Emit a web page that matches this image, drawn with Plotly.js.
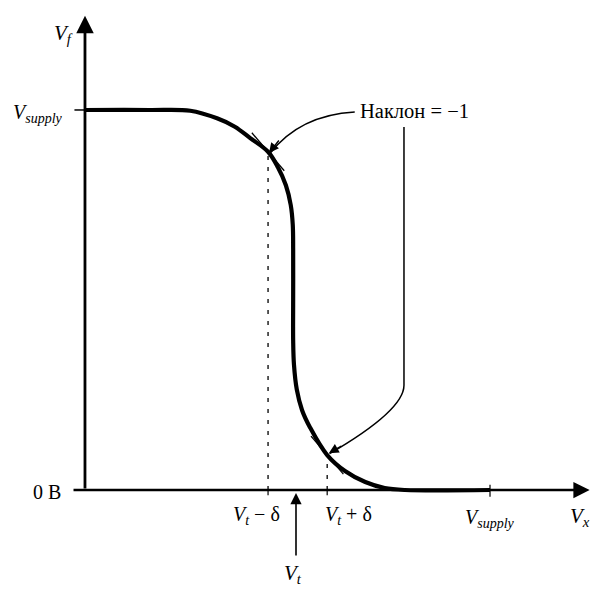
<!DOCTYPE html>
<html>
<head>
<meta charset="utf-8">
<script src="https://cdn.plot.ly/plotly-3.0.1.min.js"></script>
<style>html,body{margin:0;padding:0;background:#fff;}#chart{width:615px;height:594px;}</style>
</head>
<body>
<div id="chart"></div>
<script>
// ---- data (units: Vsupply = 5) ----
const vSupply = 5;
const vT = 2.605;
const curveX = [0, 0.80, 1.30, 1.63, 1.85, 2.04, 2.26, 2.38, 2.48, 2.54, 2.565, 2.57, 2.57, 2.57, 2.58, 2.615, 2.68, 2.78, 2.99, 3.21, 3.46, 3.70, 3.95, 5.0];
const curveY = [5.0, 5.0, 4.99, 4.89, 4.78, 4.63, 4.45, 4.25, 4.01, 3.75, 3.49, 3.16, 2.50, 1.97, 1.65, 1.32, 1.05, 0.82, 0.46, 0.25, 0.105, 0.026, 0, 0];
const tanX = [2.26, 2.99];
const tanY = [4.45, 0.46];
const tanSlope = -1.25;
const tanHalf = 0.2;
const xTickLabels = ['<i>V<sub>t</sub></i> − δ', '<i>V<sub>t</sub></i> + δ', '<i>V<sub>supply</sub></i>'];
const yTickLabels = ['<i>V<sub>supply</sub></i>', '0 В'];
const slopeLabel = 'Наклон = −1';

const FONT = 'Liberation Serif, DejaVu Serif, serif';
const traces = [];
traces.push({x: curveX, y: curveY, mode: 'lines', line: {color: '#000', width: 4.2, shape: 'spline', smoothing: 1}, hoverinfo: 'skip', cliponaxis: false});
for (let i = 0; i < tanX.length; i++) {
  traces.push({x: [tanX[i] - tanHalf, tanX[i] + tanHalf], y: [tanY[i] - tanSlope * tanHalf, tanY[i] + tanSlope * tanHalf],
    mode: 'lines', line: {color: '#000', width: 1.3}, hoverinfo: 'skip'});
  traces.push({x: [tanX[i], tanX[i]], y: [0, tanY[i]], mode: 'lines', line: {color: '#000', width: 1.3, dash: '4px,7px'}, hoverinfo: 'skip'});
}

const shapes = [
  {type: 'line', xref: 'x', yref: 'y', x0: -0.13, x1: 0, y0: vSupply, y1: vSupply, line: {color: '#000', width: 1.5}},
  {type: 'line', xref: 'x', yref: 'y', x0: vSupply, x1: vSupply, y0: 0.07, y1: -0.09, line: {color: '#000', width: 1.2}},
  {type: 'line', xref: 'x', yref: 'y', x0: tanX[0], x1: tanX[0], y0: 0, y1: -0.07, line: {color: '#000', width: 1.2}},
  {type: 'line', xref: 'x', yref: 'y', x0: tanX[1], x1: tanX[1], y0: 0, y1: -0.07, line: {color: '#000', width: 1.2}},
  {type: 'path', xref: 'x', yref: 'y', path: 'M 3.33 4.974 Q 2.654 4.934 2.285 4.43', line: {color: '#000', width: 1.5}},
  {type: 'path', xref: 'x', yref: 'y', path: 'M 3.938 4.776 L 3.938 1.38 C 3.938 1.118 3.52 0.79 3.02 0.48', line: {color: '#000', width: 1.5}}
];

const ann = [];
ann.push({x: 6.23, y: 0, ax: -0.16, ay: 0, xref: 'x', yref: 'y', axref: 'x', ayref: 'y', text: '', showarrow: true, arrowhead: 2, arrowsize: 1.3, arrowwidth: 2.5, arrowcolor: '#000'});
ann.push({x: 0, y: 6.24, ax: 0, ay: 0, xref: 'x', yref: 'y', axref: 'x', ayref: 'y', text: '', showarrow: true, arrowhead: 2, arrowsize: 1.25, arrowwidth: 2.8, arrowcolor: '#000'});
ann.push({x: vT, y: -0.04, ax: vT, ay: -0.88, xref: 'x', yref: 'y', axref: 'x', ayref: 'y', text: '', showarrow: true, arrowhead: 2, arrowsize: 1.4, arrowwidth: 1.6, arrowcolor: '#000'});
ann.push({x: 2.272, y: 4.434, ax: 11, ay: -14, xref: 'x', yref: 'y', text: '', showarrow: true, arrowhead: 2, arrowsize: 1.4, arrowwidth: 1.4, arrowcolor: '#000'});
ann.push({x: 3.01, y: 0.485, ax: 14, ay: -8, xref: 'x', yref: 'y', text: '', showarrow: true, arrowhead: 2, arrowsize: 1.4, arrowwidth: 1.4, arrowcolor: '#000'});

const lab = (x, y, text, xa, size) => ({x: x, y: y, xref: 'x', yref: 'y', text: text, showarrow: false, xanchor: xa || 'center', yanchor: 'middle', font: {family: FONT, size: size || 19, color: '#000'}});
ann.push(lab(-0.27, 6.0, '<i>V<sub>f</sub></i>', 'center', 21));
ann.push(lab(-0.25, vSupply - 0.05, yTickLabels[0], 'right', 20));
ann.push(lab(-0.27, -0.02, yTickLabels[1], 'right', 20));
ann.push(lab(2.43, -0.33, xTickLabels[0], 'right', 20));
ann.push(lab(2.94, -0.33, xTickLabels[1], 'left', 20));
ann.push(lab(vSupply, -0.38, xTickLabels[2], 'center', 20));
ann.push(lab(6.11, -0.36, '<i>V<sub>x</sub></i>', 'center', 21));
ann.push(lab(2.57, -1.1, '<i>V<sub>t</sub></i>', 'center', 21));
ann.push(lab(3.37, 4.99, slopeLabel, 'left', 20.5));

const layout = {
  width: 615, height: 594,
  margin: {l: 0, r: 0, t: 0, b: 0},
  paper_bgcolor: '#fff', plot_bgcolor: '#fff',
  showlegend: false,
  xaxis: {range: [-1.049, 6.543], visible: false, fixedrange: true},
  yaxis: {range: [-1.368, 6.447], visible: false, fixedrange: true},
  shapes: shapes,
  annotations: ann
};
Plotly.newPlot('chart', traces, layout, {staticPlot: true});
</script>
</body>
</html>
